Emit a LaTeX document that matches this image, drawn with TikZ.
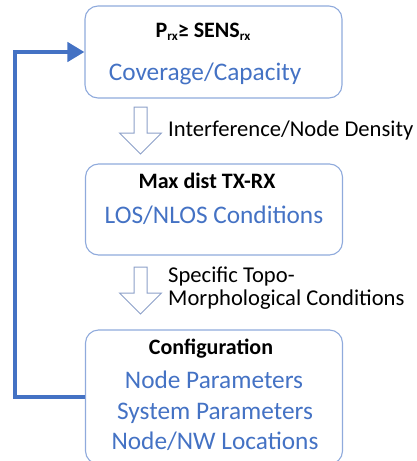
\documentclass[tikz,border=0pt]{standalone}
\usepackage{fontspec}
\setmainfont{Carlito}
\usetikzlibrary{arrows.meta, positioning, calc}
\definecolor{boxline}{RGB}{143,170,220}
\definecolor{arrowgray}{RGB}{140,160,200}
\definecolor{loopblue}{RGB}{68,114,196}
\newcommand{\lowrx}[1]{\raisebox{-0.35ex}{\fontsize{13}{13}\selectfont #1}}

\tikzset{
  hollowdown/.pic={
    \draw[arrowgray,line width=1pt,line join=miter]
      (-6.5,0) -- (-6.5,26) -- (-21,26) -- (0,47) -- (21,26) -- (6.5,26) -- (6.5,0) -- cycle;
  }
}

\begin{document}
\begin{tikzpicture}[x=1pt,y=-1pt,
  stage/.style={draw=boxline,line width=1.1pt,rounded corners=13pt,minimum width=257pt,inner sep=0pt},
  head/.style={font=\bfseries\fontsize{22}{26}\selectfont,inner sep=0pt,anchor=base},
  cond/.style={text=loopblue,font=\fontsize{25.3}{30}\selectfont,inner sep=0pt,anchor=base},
  note/.style={font=\fontsize{22.6}{26}\selectfont,inner sep=0pt,anchor=base west},
  feedback/.style={loopblue,line width=4.5pt,-{Triangle[length=17pt,width=19pt]}},
]
  \path[use as bounding box,clip] (0,0) rectangle (417,461);

  % the three stages
  \node[stage,minimum height=92pt] (cov) at (213.5,52) {};
  \node[stage,minimum height=91pt] (tx) at (214,209.5) {};
  \node[stage,minimum height=134pt] (cfg) at (214,397) {};

  \node[head] (covhead) at (203,37) {P\lowrx{rx}≥ SENS\lowrx{rx}};
  \node[cond] (covtext) at (205,80) {Coverage/Capacity};
  \node[head] (txhead) at (207,188) {Max dist TX-RX};
  \node[cond] (txtext) at (214,223) {LOS/NLOS Conditions};
  \node[head] (cfghead) at (211,354) {Configuration};
  \node[cond] (cfgnode) at (214,388) {Node Parameters};
  \node[cond] (cfgsys) at (215,419) {System Parameters};
  \node[cond] (cfgloc) at (215,449) {Node/NW Locations};

  % steps between stages
  \pic at (140.5,107) {hollowdown};
  \pic at (140.5,267) {hollowdown};
  \node[note] (interf) at (168,136) {Interference/Node Density};
  \node[note] (topo) at (168,282) {Specific Topo-};
  \node[note] (morph) at (168,305) {Morphological Conditions};

  % loop back
  \draw[feedback] (cfg.west) -- ++(-70,0) |- (cov.west);
\end{tikzpicture}
\end{document}
